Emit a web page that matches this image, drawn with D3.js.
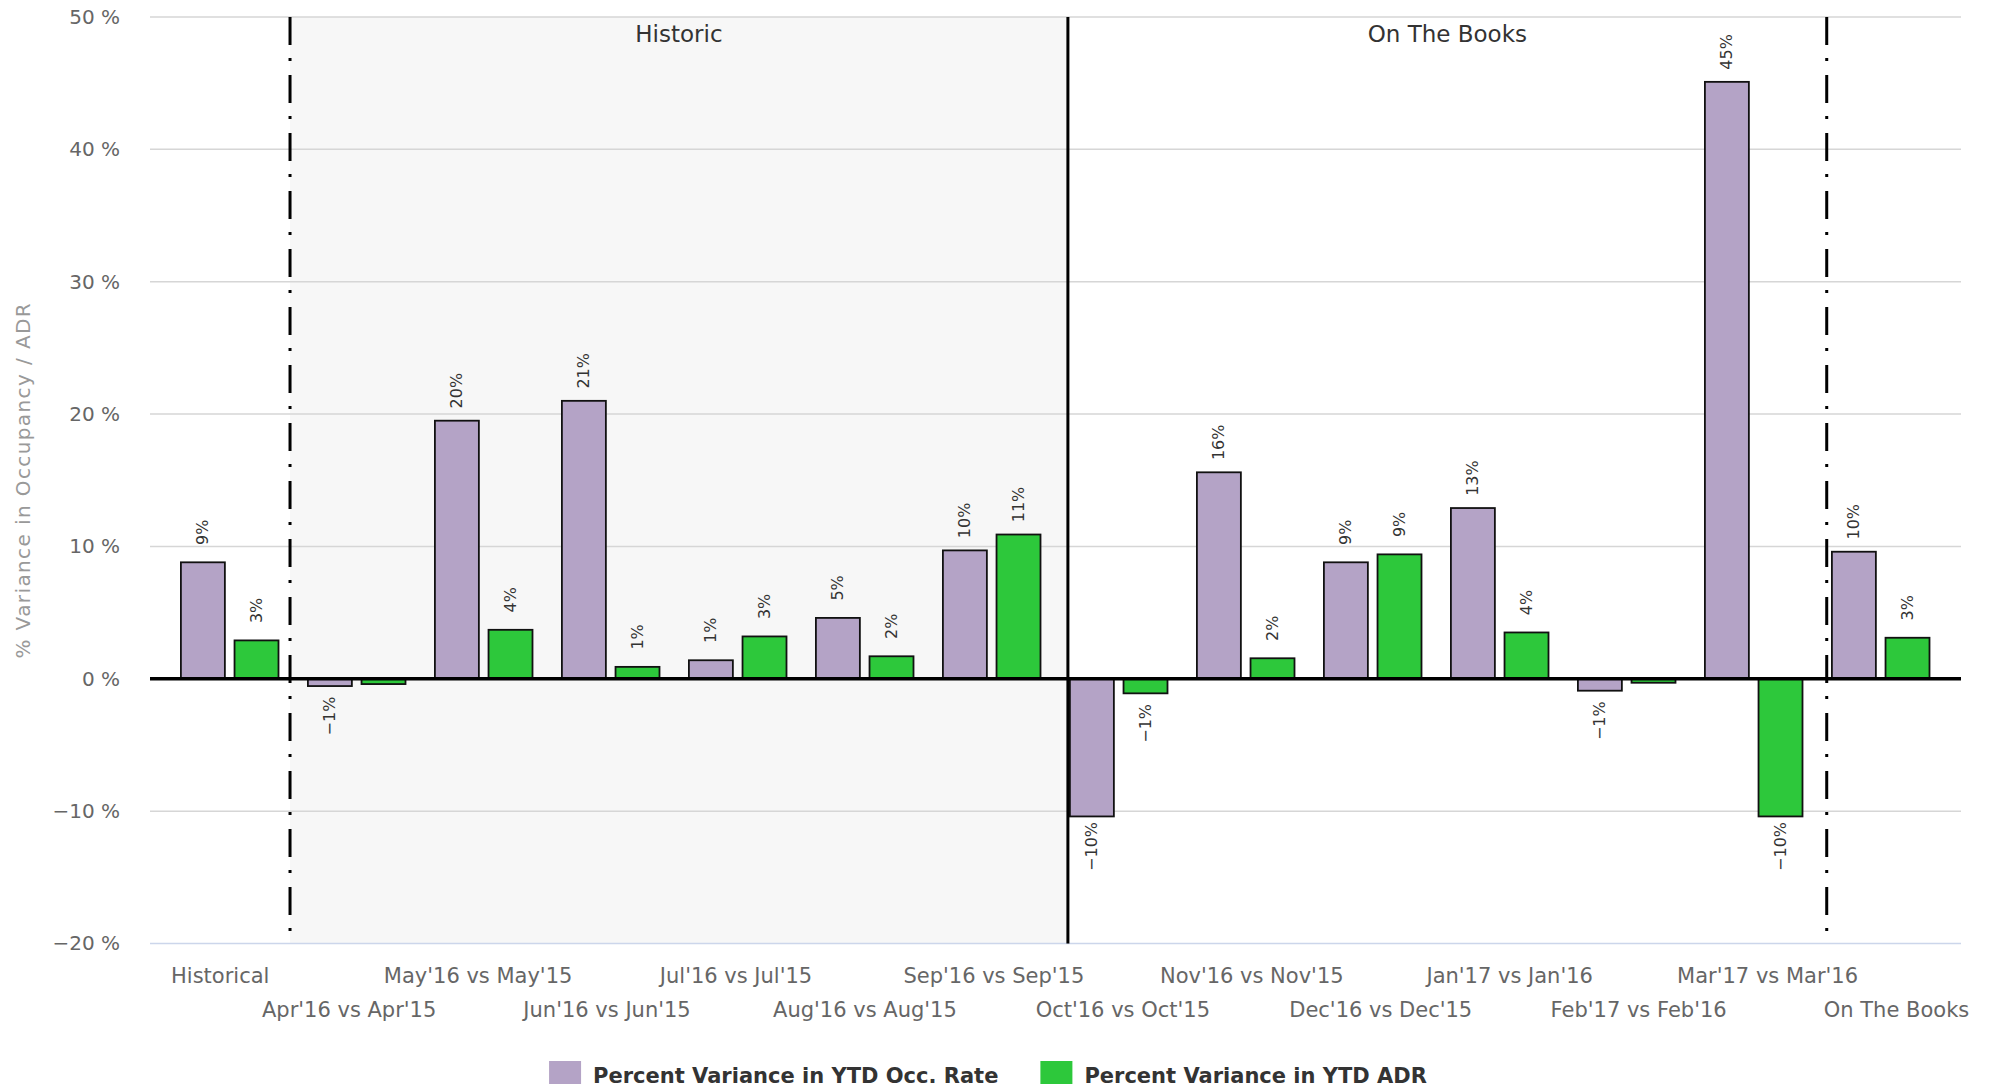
<!DOCTYPE html>
<html>
<head>
<meta charset="utf-8">
<script src="https://cdnjs.cloudflare.com/ajax/libs/d3/7.8.5/d3.min.js"></script>
<style>
  body { margin: 0; background: #fff; }
  text { font-family: "DejaVu Sans", sans-serif; }
</style>
</head>
<body>
<div id="chart"></div>
<script>
// categories and values
var categories = ["Historical", "Apr'16 vs Apr'15", "May'16 vs May'15", "Jun'16 vs Jun'15",
  "Jul'16 vs Jul'15", "Aug'16 vs Aug'15", "Sep'16 vs Sep'15", "Oct'16 vs Oct'15",
  "Nov'16 vs Nov'15", "Dec'16 vs Dec'15", "Jan'17 vs Jan'16", "Feb'17 vs Feb'16",
  "Mar'17 vs Mar'16", "On The Books"];
var occRate = [8.8, -0.55, 19.5, 21.0, 1.4, 4.6, 9.7, -10.4, 15.6, 8.8, 12.9, -0.9, 45.1, 9.6];
var adr = [2.9, -0.4, 3.7, 0.9, 3.2, 1.7, 10.9, -1.1, 1.55, 9.4, 3.5, -0.3, -10.4, 3.1];
var seriesNames = ["Percent Variance in YTD Occ. Rate", "Percent Variance in YTD ADR"];
var yTicks = [-20, -10, 0, 10, 20, 30, 40, 50];
var bandLabels = ["Historic", "On The Books"];
// plot lines, in category index units
var plotLines = [0.475, 6.6, 12.575];

var svgWidth = 1991;
var svgHeight = 1089;
var plot = { left: 150, right: 1961, top: 17, bottom: 943.5 };
var colors = ["#b4a3c6", "#2dc83b"];

var svg = d3.select("#chart")
  .append("svg")
  .attr("width", svgWidth)
  .attr("height", svgHeight);

var yScale = d3.scaleLinear()
  .domain([-20, 50])
  .range([plot.bottom, plot.top]);

var xIndex = d3.scaleLinear()
  .domain([-0.5, categories.length - 0.5])
  .range([166.2, 1944.2]);

var xLabels = d3.scalePoint()
  .domain(categories)
  .range([219.7, 1896]);

var inner = d3.scaleBand()
  .domain([0, 1])
  .range([-48.8, 48.8])
  .paddingInner(0.18);

// plot band behind everything
svg.append("rect")
  .attr("x", xIndex(plotLines[0]))
  .attr("y", plot.top)
  .attr("width", xIndex(plotLines[1]) - xIndex(plotLines[0]))
  .attr("height", plot.bottom - plot.top)
  .attr("fill", "#f7f7f7");

// gridlines
svg.append("g")
  .selectAll("line")
  .data(yTicks.filter(d => d !== 0 && d !== -20))
  .enter()
  .append("line")
  .attr("x1", plot.left)
  .attr("x2", plot.right)
  .attr("y1", d => yScale(d))
  .attr("y2", d => yScale(d))
  .attr("stroke", "#d6d6d6")
  .attr("stroke-width", 1.5);

svg.append("line")
  .attr("x1", plot.left)
  .attr("x2", plot.right)
  .attr("y1", plot.bottom)
  .attr("y2", plot.bottom)
  .attr("stroke", "#ccd6eb")
  .attr("stroke-width", 1.5);

// y axis
var leftAxis = d3.axisLeft(yScale)
  .tickValues(yTicks)
  .tickSize(0)
  .tickPadding(30)
  .tickFormat(d => (d < 0 ? "\u2212" + Math.abs(d) : d) + " %");

var yAxis = svg.append("g")
  .attr("transform", `translate(${plot.left},0)`)
  .call(leftAxis);
yAxis.select(".domain").remove();
yAxis.selectAll("text")
  .attr("font-size", "20px")
  .attr("fill", "#666");

svg.append("text")
  .attr("transform", `translate(30,${(plot.top + plot.bottom) / 2})rotate(-90)`)
  .attr("text-anchor", "middle")
  .attr("font-size", "20px")
  .attr("letter-spacing", "1.4px")
  .attr("fill", "#999")
  .text("% Variance in Occupancy / ADR");

// x axis labels, staggered on two rows
var bottomAxis = d3.axisBottom(xLabels).tickSize(0);
var xAxis = svg.append("g")
  .attr("transform", `translate(0,${plot.bottom})`)
  .call(bottomAxis);
xAxis.select(".domain").remove();
xAxis.selectAll("text")
  .attr("font-size", "21px")
  .attr("fill", "#666")
  .attr("dy", null)
  .attr("y", (d, i) => i % 2 === 0 ? 39.5 : 73.5);

// bars
var seriesData = [occRate, adr];
var barGroup = svg.append("g");
seriesData.forEach(function(values, s) {
  barGroup.selectAll(".bar" + s)
    .data(values)
    .enter()
    .append("rect")
    .attr("class", "bar" + s)
    .attr("x", (d, i) => xIndex(i) + inner(s))
    .attr("width", inner.bandwidth())
    .attr("y", d => yScale(Math.max(0, d)))
    .attr("height", d => Math.abs(yScale(d) - yScale(0)))
    .attr("fill", colors[s])
    .attr("stroke", "#111")
    .attr("stroke-width", 1.8);
});

// zero line
svg.append("line")
  .attr("x1", plot.left)
  .attr("x2", plot.right)
  .attr("y1", yScale(0))
  .attr("y2", yScale(0))
  .attr("stroke", "#000")
  .attr("stroke-width", 3.5);

// plot lines
svg.append("g")
  .selectAll("line")
  .data(plotLines)
  .enter()
  .append("line")
  .attr("x1", d => xIndex(d))
  .attr("x2", d => xIndex(d))
  .attr("y1", plot.top)
  .attr("y2", plot.bottom)
  .attr("stroke", "#000")
  .attr("stroke-width", 3)
  .attr("stroke-dasharray", (d, i) => i === 1 ? null : "28,13,3,14");

// band titles
svg.selectAll(".bandTitle")
  .data(bandLabels)
  .enter()
  .append("text")
  .attr("class", "bandTitle")
  .attr("x", (d, i) => i === 0 ? (xIndex(plotLines[0]) + xIndex(plotLines[1])) / 2
                                : (xIndex(plotLines[1]) + xIndex(plotLines[2])) / 2)
  .attr("y", 42)
  .attr("text-anchor", "middle")
  .attr("font-size", "23px")
  .attr("fill", "#333")
  .text(d => d);

// data labels
seriesData.forEach(function(values, s) {
  svg.append("g")
    .selectAll("text")
    .data(values.map((v, i) => ({ v: v, i: i })).filter(d => Math.round(d.v) !== 0))
    .enter()
    .append("text")
    .attr("transform", function(d) {
      var cx = xIndex(d.i) + inner(s) + inner.bandwidth() / 2;
      var cy = d.v >= 0 ? yScale(d.v) - 30 : yScale(d.v) + 30;
      return `translate(${cx},${cy})rotate(-90)`;
    })
    .attr("text-anchor", "middle")
    .attr("dy", "0.35em")
    .attr("font-size", "16px")
    .attr("fill", "#333")
    .text(d => (d.v < 0 ? "\u2212" : "") + Math.abs(Math.round(d.v)) + "%");
});

// legend
var legend = svg.append("g");
var legendX = 0;
var items = [];
seriesNames.forEach(function(name, s) {
  var item = legend.append("g").attr("transform", `translate(${legendX},0)`);
  item.append("rect")
    .attr("x", 0)
    .attr("y", 1061)
    .attr("width", 32)
    .attr("height", 23)
    .attr("fill", colors[s]);
  var t = item.append("text")
    .attr("x", 44)
    .attr("y", 1083)
    .attr("font-size", "21px")
    .attr("font-weight", "bold")
    .attr("fill", "#333")
    .text(name);
  legendX += 44 + t.node().getComputedTextLength() + 42;
});
var legendWidth = legendX - 42;
legend.attr("transform", `translate(${988 - legendWidth / 2},0)`);
</script>
</body>
</html>
